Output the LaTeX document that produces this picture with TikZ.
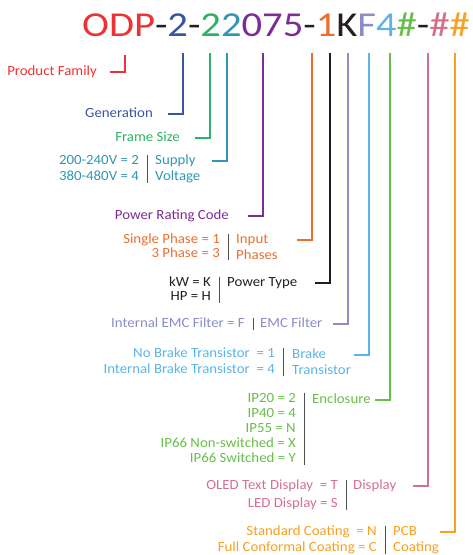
\documentclass[tikz,border=0pt]{standalone}
\usepackage{fontspec}
\setmainfont{Carlito}[FakeStretch=1.06]
\newfontfamily\titlefont[FakeStretch=1.16]{Carlito}
\usetikzlibrary{positioning}
\definecolor{cfam}{RGB}{236,50,50}
\definecolor{cgen}{RGB}{58,84,164}
\definecolor{cframe}{RGB}{44,178,100}
\definecolor{csup}{RGB}{48,150,178}
\definecolor{cpow}{RGB}{124,44,148}
\definecolor{cphase}{RGB}{234,112,46}
\definecolor{ctype}{RGB}{35,31,32}
\definecolor{cemc}{RGB}{140,140,200}
\definecolor{cbrake}{RGB}{92,180,230}
\definecolor{cencl}{RGB}{104,190,72}
\definecolor{cdisp}{RGB}{212,112,142}
\definecolor{cpcb}{RGB}{248,160,32}
\definecolor{cbar}{RGB}{80,80,80}

\begin{document}
\begin{tikzpicture}[x=1pt, y=-1pt,
    lbl/.style={font=\fontsize{14}{16}\selectfont, inner sep=0pt, text height=9.5pt, text depth=3pt},
    val/.style={lbl, anchor=east},
    key/.style={lbl, anchor=west},
    wire/.style={line width=1.8pt},
    bar/.style={line width=1pt, cbar}]
    \useasboundingbox (0,0) rectangle (473,555);

    % part number
    \node[anchor=base east, inner sep=0pt, font={\titlefont\fontsize{35}{40}\selectfont}] (code) at (470,36)
        {\textcolor{cfam}{ODP}\textcolor{ctype}{-}\textcolor{cgen}{2}\textcolor{ctype}{-}\textcolor{cframe}{2}\textcolor{csup}{2}\textcolor{cpow}{075}\textcolor{ctype}{-}\textcolor{cphase}{1}\textcolor{ctype}{K}\textcolor{cemc}{F}\textcolor{cbrake}{4}\textcolor{cencl}{\#}\textcolor{ctype}{-}\textcolor{cdisp}{\#}\textcolor{cpcb}{\#}};

    \coordinate (fam-top) at (125,55);
    \foreach \n/\x in {gen/183, frame/210, sup/227, pow/263, phase/312, type/330, emc/348, brake/369, encl/390, disp/428, pcb/455} {
        \coordinate (\n-top) at (\x,53);
    }

    \node[val, cfam] (fam) at (97,72) {Product Family};
    \node[val, cgen] (gen) at (153,114) {Generation};
    \node[val, cframe] (frame) at (180,138) {Frame Size};

    % supply voltage
    \node[val, csup] (sup-a) at (139,161) {200-240V = 2};
    \node[val, csup] (sup-b) at (139,177) {380-480V = 4};
    \node[key, csup] (sup) at (155,161) {Supply};
    \node[key, csup] (sup-2) at (155,177) {Voltage};
    \draw[bar] ([xshift=8pt]sup-a.north east) -- ([xshift=8pt]sup-b.south east);

    \node[val, cpow] (pow) at (229,216) {Power Rating Code};

    % input phases
    \node[val, cphase] (phase-a) at (220,240) {Single Phase = 1};
    \node[val, cphase] (phase-b) at (220,254) {3 Phase = 3};
    \node[key, cphase] (phase) at (236,240) {Input};
    \node[key, cphase] (phase-2) at (236,256) {Phases};
    \draw[bar] ([xshift=8pt]phase-a.north east) -- ([xshift=8pt]phase-b.south east);

    % power type
    \node[val, ctype] (type-a) at (211,283) {kW = K};
    \node[val, ctype] (type-b) at (211,297) {HP = H};
    \node[key, ctype] (type) at (227,283) {Power Type};
    \draw[bar] ([xshift=8pt]type-a.north east) -- ([xshift=8pt]type-b.south east);

    % emc filter
    \node[val, cemc] (emc-a) at (245,324) {Internal EMC Filter = F};
    \node[key, cemc] (emc) at (260,324) {EMC Filter};
    \draw[bar] ([xshift=8pt]emc-a.north east) -- ([xshift=8pt]emc-a.south east);

    % brake transistor
    \node[val, cbrake] (brake-a) at (275,354) {No Brake Transistor~ = 1};
    \node[val, cbrake] (brake-b) at (275,370) {Internal Brake Transistor~ = 4};
    \node[key, cbrake] (brake) at (292,355) {Brake};
    \node[key, cbrake] (brake-2) at (292,371) {Transistor};
    \draw[bar] ([xshift=8pt]brake-a.north east) -- ([xshift=8pt]brake-b.south east);

    % enclosure
    \foreach \t [count=\i] in {IP20 = 2, IP40 = 4, IP55 = N, IP66 Non-switched = X, IP66 Switched = Y} {
        \node[val, cencl] (encl-\i) at (296,{384+15*\i}) {\t};
    }
    \node[key, cencl] (encl) at (312,400) {Enclosure};
    \draw[bar] ([xshift=8pt]encl-1.north east) -- ([xshift=8pt]encl-5.south east);

    % display
    \node[val, cdisp] (disp-a) at (338,486) {OLED Text Display~ = T};
    \node[val, cdisp] (disp-b) at (338,504) {LED Display = S};
    \node[key, cdisp] (disp) at (353,486) {Display};
    \draw[bar] ([xshift=8pt]disp-a.north east) -- ([xshift=8pt]disp-b.south east);

    % pcb coating
    \node[val, cpcb] (pcb-a) at (377,532) {Standard Coating~ = N};
    \node[val, cpcb] (pcb-b) at (377,548) {Full Conformal Coating = C};
    \node[key, cpcb] (pcb) at (393,532) {PCB};
    \node[key, cpcb] (pcb-2) at (393,548) {Coating};
    \draw[bar] ([xshift=8pt]pcb-a.north east) -- ([xshift=8pt]pcb-b.south east);

    % leader lines
    \foreach \n in {fam, gen, frame, sup, pow, phase, type, emc, brake, encl, disp, pcb} {
        \draw[wire, color=c\n] (\n-top) -- (\n-top |- \n) -- ++(-15,0);
    }
\end{tikzpicture}
\end{document}
